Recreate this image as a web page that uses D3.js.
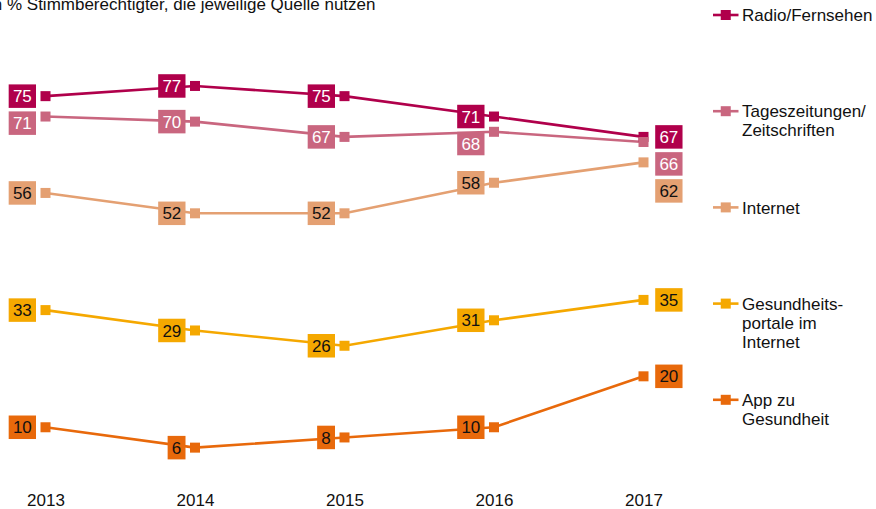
<!DOCTYPE html>
<html>
<head>
<meta charset="utf-8">
<script src="https://cdn.jsdelivr.net/npm/d3@7"></script>
<style>
  body { margin: 0; background: #fff; }
  text { font-family: "Liberation Sans", Arial, sans-serif; }
</style>
</head>
<body>
<div id="chart"></div>
<script>
// Data
const years = ["2013", "2014", "2015", "2016", "2017"];
const seriesNames = ["Radio/Fernsehen", "Tageszeitungen/Zeitschriften", "Internet",
                     "Gesundheitsportale im Internet", "App zu Gesundheit"];
const legendLines = [["Radio/Fernsehen"], ["Tageszeitungen/", "Zeitschriften"], ["Internet"],
                     ["Gesundheits-", "portale im", "Internet"], ["App zu", "Gesundheit"]];
const radio = [75, 77, 75, 71, 67];
const zeitungen = [71, 70, 67, 68, 66];
const internet = [56, 52, 52, 58, 62];
const portale = [33, 29, 26, 31, 35];
const app = [10, 6, 8, 10, 20];
const title = "in % Stimmberechtigter, die jeweilige Quelle nutzen";

// Styles
const colors = ["#b0004b", "#c9667f", "#e4a072", "#f5a800", "#e8690b"];
const labelText = ["#fff", "#fff", "#111", "#111", "#111"];

const width = 876, height = 509;
const fontSize = 17;

const series = [radio, zeitungen, internet, portale, app].map((vals, i) => ({
  name: seriesNames[i],
  color: colors[i],
  textColor: labelText[i],
  values: vals.map((v, j) => ({ year: years[j], value: v }))
}));

const svg = d3.select("#chart")
  .append("svg")
    .attr("width", width)
    .attr("height", height);

// scales
const x = d3.scalePoint()
  .domain(years)
  .range([45.5, 643.5]);

const y = d3.scaleLinear()
  .domain([0, 100])
  .range([478.2, -31.2]);

// title (cut at the top like the original)
svg.append("text")
  .attr("x", -11)
  .attr("y", 10)
  .style("font-size", fontSize + "px")
  .attr("fill", "#111")
  .text(title);

// Add X axis
const xAxis = svg.append("g")
  .attr("transform", "translate(0, 490)")
  .call(d3.axisBottom(x).tickSize(0).tickPadding(4));
xAxis.select(".domain").remove();
xAxis.selectAll("text")
  .style("font-size", fontSize + "px")
  .style("font-family", "'Liberation Sans', Arial, sans-serif")
  .attr("fill", "#111");

// lines
const line = d3.line()
  .x(d => x(d.year))
  .y(d => y(d.value));

svg.selectAll(".series-line")
  .data(series)
  .join("path")
    .attr("class", "series-line")
    .attr("fill", "none")
    .attr("stroke", d => d.color)
    .attr("stroke-width", 2.6)
    .attr("d", d => line(d.values));

// markers
const mk = 10;
series.forEach(s => {
  svg.append("g").selectAll("rect")
    .data(s.values)
    .join("rect")
      .attr("x", d => x(d.year) - mk / 2)
      .attr("y", d => y(d.value) - mk / 2)
      .attr("width", mk)
      .attr("height", mk)
      .attr("fill", s.color);
});

// value labels: push overlapping boxes downward within a year
const boxH = 23.5, gap = 27, pad = 4.2;
const labels = [];
years.forEach((yr, j) => {
  const col = series.map(s => ({ s: s, d: s.values[j], cy: y(s.values[j].value) }))
    .sort((a, b) => a.cy - b.cy);
  let prev = -Infinity;
  col.forEach(l => {
    l.cy = Math.max(l.cy, prev + gap);
    prev = l.cy;
    l.last = j === years.length - 1;
    labels.push(l);
  });
});

const lab = svg.append("g").selectAll("g")
  .data(labels)
  .join("g");

lab.append("text")
  .attr("class", "val")
  .attr("text-anchor", "middle")
  .attr("dy", "0.36em")
  .style("font-size", fontSize + "px")
  .attr("fill", d => d.s.textColor)
  .text(d => d.d.value)
  .each(function (d) { d.w = this.getComputedTextLength() + pad * 2; })
  .attr("x", d => d.last ? x(d.d.year) + 11.7 + d.w / 2 : x(d.d.year) - 9.5 - d.w / 2)
  .attr("y", d => d.cy);

lab.insert("rect", "text")
  .attr("x", d => d.last ? x(d.d.year) + 11.7 : x(d.d.year) - 9.5 - d.w)
  .attr("y", d => d.cy - boxH / 2)
  .attr("width", d => d.w)
  .attr("height", boxH)
  .attr("fill", d => d.s.color);

// legend
const legend = svg.append("g")
  .selectAll("g")
  .data(series)
  .join("g")
    .attr("transform", (d, i) => `translate(713, ${15 + i * 96.2})`);

legend.append("line")
  .attr("x1", 0).attr("x2", 25.5)
  .attr("stroke", d => d.color)
  .attr("stroke-width", 2.6);

legend.append("rect")
  .attr("x", 12.75 - mk / 2).attr("y", -mk / 2)
  .attr("width", mk).attr("height", mk)
  .attr("fill", d => d.color);

legend.append("text")
  .attr("x", 29)
  .style("font-size", fontSize + "px")
  .attr("fill", "#111")
  .selectAll("tspan")
  .data((d, i) => legendLines[i])
  .join("tspan")
    .attr("x", 29)
    .attr("y", (d, k) => k * 19)
    .attr("dy", "0.36em")
    .text(d => d);
</script>
</body>
</html>
